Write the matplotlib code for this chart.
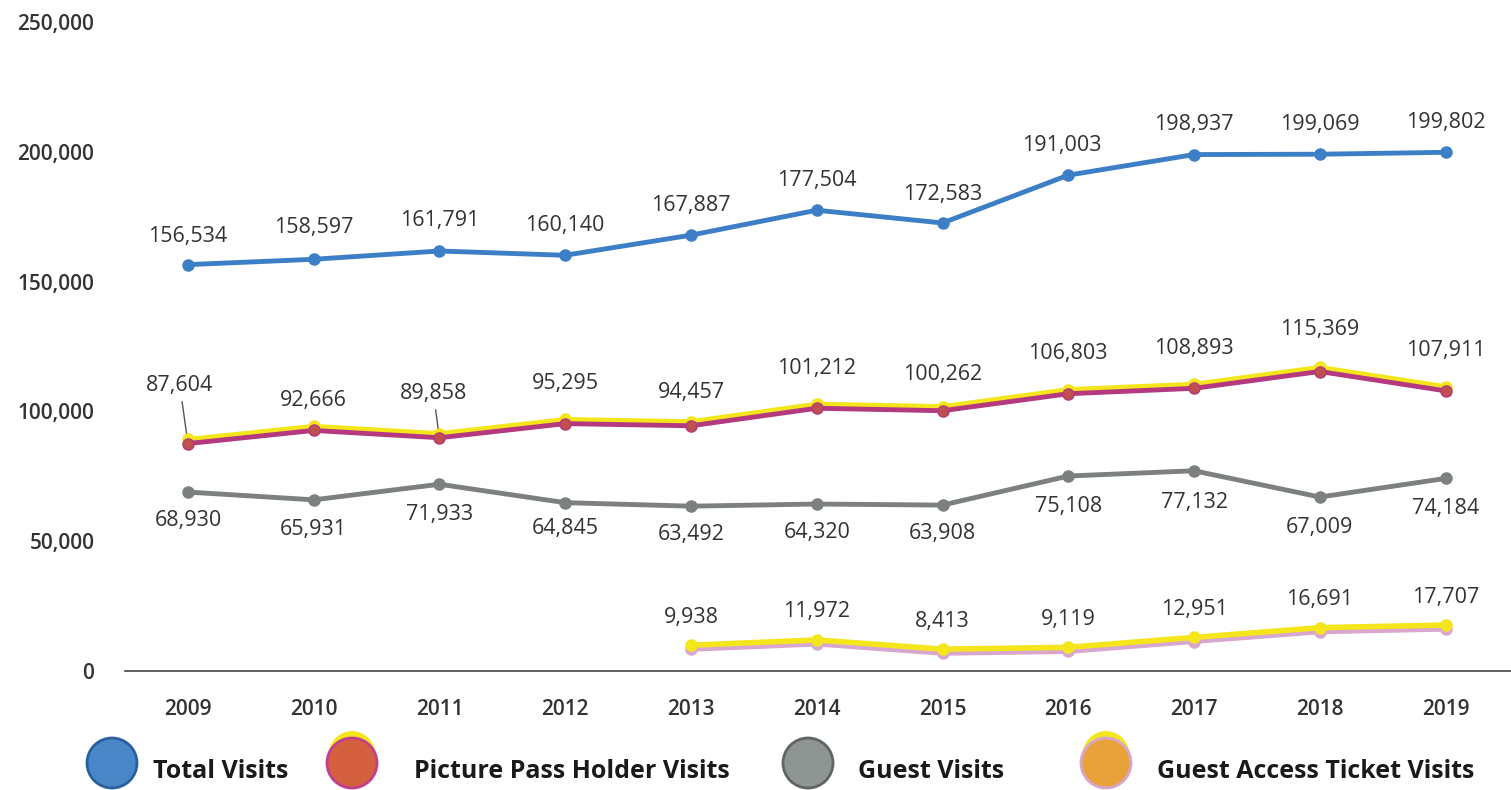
import numpy as np
import matplotlib.pyplot as plt
import matplotlib.transforms as mtransforms
from matplotlib.patches import Ellipse

# Data
years = ['2009', '2010', '2011', '2012', '2013', '2014', '2015', '2016', '2017', '2018', '2019']
total_visits = [156534, 158597, 161791, 160140, 167887, 177504, 172583, 191003, 198937, 199069, 199802]
pass_visits = [87604, 92666, 89858, 95295, 94457, 101212, 100262, 106803, 108893, 115369, 107911]
guest_visits = [68930, 65931, 71933, 64845, 63492, 64320, 63908, 75108, 77132, 67009, 74184]
ticket_years = ['2013', '2014', '2015', '2016', '2017', '2018', '2019']
ticket_visits = [9938, 11972, 8413, 9119, 12951, 16691, 17707]
legend_labels = ['Total Visits', 'Picture Pass Holder Visits', 'Guest Visits', 'Guest Access Ticket Visits']

plt.rcParams['font.family'] = ['Open Sans', 'DejaVu Sans']

fig = plt.figure(figsize=(15.11, 7.9), dpi=100)
ax = fig.add_axes([125 / 1511, 1 - 671 / 790, 1 - 125 / 1511, (671 - 22) / 790])

x = np.arange(len(years))
xt = np.array([years.index(y) for y in ticket_years])

up = mtransforms.offset_copy(ax.transData, fig=fig, x=0, y=3, units='points')
down = mtransforms.offset_copy(ax.transData, fig=fig, x=0, y=-3, units='points')

blue = '#3d7fc6'
magenta = '#b4397f'
yellow = '#f4e61a'
gray = '#7d8080'
pink = '#d8a6cf'

# Total visits
ax.plot(x, total_visits, color=blue, lw=3.5, marker='o', ms=8, clip_on=False, zorder=5)
# Picture pass holder (yellow misregistration above magenta)
ax.plot(x, pass_visits, color=yellow, lw=3.5, marker='o', ms=8, transform=up, clip_on=False, zorder=4)
ax.plot(x, pass_visits, color=magenta, lw=3.5, marker='o', ms=8, mfc='#c0504d', clip_on=False, zorder=5)
# Guest visits
ax.plot(x, guest_visits, color=gray, lw=3.5, marker='o', ms=8, clip_on=False, zorder=5)
# Guest access ticket (pink offset below yellow)
ax.plot(xt, ticket_visits, color=pink, lw=3.5, marker='o', ms=8, transform=down, clip_on=False, zorder=4)
ax.plot(xt, ticket_visits, color=yellow, lw=4, marker='o', ms=8, clip_on=False, zorder=5)

lab = dict(fontsize=15.5, color='#333333', ha='center', va='center')

total_dy = [28, 32, 30, 30, 30, 30, 28, 30, 30, 30, 30]
total_dx = [0, 0, 0, 0, 0, 0, 0, -6, 0, 0, 0]
for i, v in enumerate(total_visits):
    ax.annotate(f'{v:,}', (x[i], v), xytext=(total_dx[i], total_dy[i]), textcoords='offset pixels', **lab)

pass_dy = [58, 30, 44, 40, 33, 40, 36, 40, 40, 42, 40]
for i, v in enumerate(pass_visits):
    if i in (0, 2):
        ax.annotate(f'{v:,}', (x[i], v), xytext=(-8 if i == 0 else -6, pass_dy[i]),
                    textcoords='offset pixels',
                    arrowprops=dict(arrowstyle='-', color='#555555', lw=1, shrinkA=2, shrinkB=0),
                    **lab)
    else:
        ax.annotate(f'{v:,}', (x[i], v), xytext=(0, pass_dy[i]), textcoords='offset pixels', **lab)

guest_dy = [-28, -30, -30, -26, -28, -28, -28, -30, -32, -30, -30]
for i, v in enumerate(guest_visits):
    ax.annotate(f'{v:,}', (x[i], v), xytext=(0, guest_dy[i]), textcoords='offset pixels', **lab)

for i, v in zip(xt, ticket_visits):
    ax.annotate(f'{v:,}', (i, v), xytext=(0, 28), textcoords='offset pixels', **lab)

ax.set_xlim(-0.5, 10.52)
ax.set_ylim(0, 250000)
ax.set_xticks(x)
ax.set_xticklabels(years)
ax.set_yticks([0, 50000, 100000, 150000, 200000, 250000])
ax.set_yticklabels(['0', '50,000', '100,000', '150,000', '200,000', '250,000'])
ax.tick_params(axis='both', length=0, labelsize=15, labelcolor='#333333')
ax.tick_params(axis='y', pad=22)
ax.tick_params(axis='x', pad=20)
for t in ax.get_xticklabels() + ax.get_yticklabels():
    t.set_fontweight('semibold')

for s in ['top', 'right', 'left']:
    ax.spines[s].set_visible(False)
ax.spines['bottom'].set_color('#444444')
ax.spines['bottom'].set_linewidth(1.2)

# Legend drawn along the bottom
circle_x = [112, 352, 808, 1106]
text_x = [153, 414, 858, 1157]
face = ['#4a87c8', '#d4603f', '#8e9592', '#e9a23a']
edge = ['#2a5f9e', '#c23d8d', '#5e6663', '#d7a6cf']
top_tint = [None, yellow, None, yellow]
for cx, tx, fc, ec, tt, name in zip(circle_x, text_x, face, edge, top_tint, legend_labels):
    if tt:
        fig.patches.append(Ellipse((cx / 1511, 1 - 757 / 790), 48 / 1511, 52 / 790,
                                   transform=fig.transFigure, fc=tt, ec='none', zorder=1))
    fig.patches.append(Ellipse((cx / 1511, 1 - 763 / 790), 50 / 1511, 50 / 790,
                               transform=fig.transFigure, fc=fc, ec=ec, lw=2, zorder=2))
    fig.text(tx / 1511, 1 - 772 / 790, name, fontsize=18, fontweight='bold',
             color='#1a1a1a', va='center', ha='left')

fig.savefig('out.png', dpi=100)
